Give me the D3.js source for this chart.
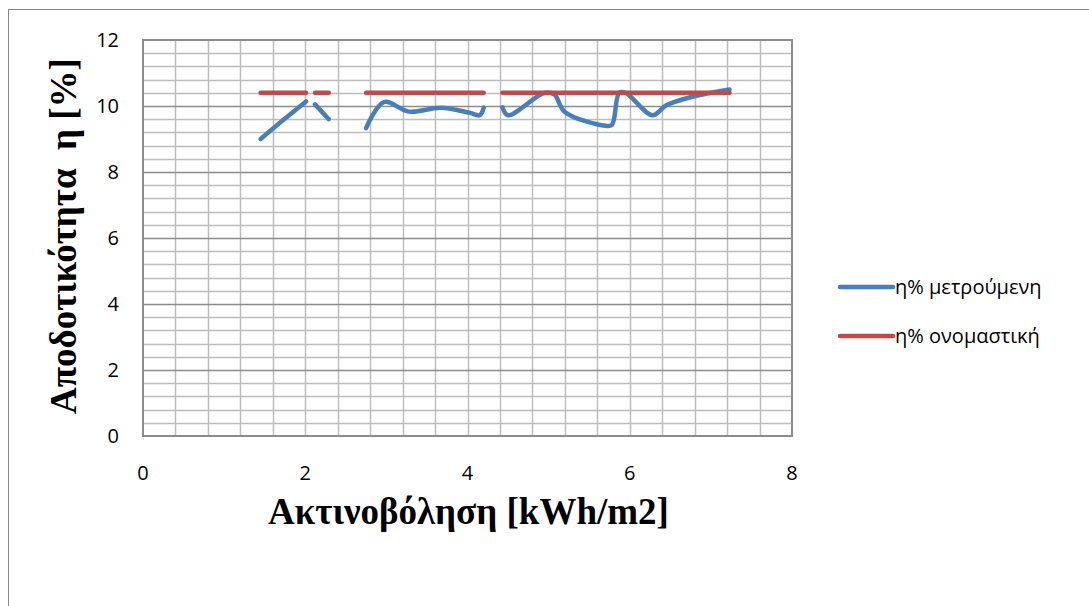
<!DOCTYPE html>
<html>
<head>
<meta charset="utf-8">
<script src="https://cdn.jsdelivr.net/npm/d3@7"></script>
<style>
  body { margin: 0; background: #fff; }
  svg { display: block; }
  .tick-label { font-family: "Open Sans", sans-serif; font-size: 20px; fill: #000; }
  .legend-label { font-family: "Open Sans", sans-serif; font-size: 20px; fill: #000; }
  .axis-title { font-family: "Liberation Serif", serif; font-size: 37px; font-weight: bold; fill: #000; white-space: pre; }
</style>
</head>
<body>
<svg id="chart" width="1089" height="606"></svg>
<script>
// irradiance in kWh/m2, null rows are where the series break
const irradiance = [1.45, 1.75, 2.01, 2.06, 2.12, 2.29, 2.5, 2.75, 2.97, 3.28, 3.67, 4.02, 4.15, 4.2, 4.3,
  4.43, 4.5, 4.95, 5.07, 5.2, 5.7, 5.78, 5.87, 5.95, 6.28, 6.45, 6.77, 7.23];
const measured = [9.0, 9.62, 10.14, null, 10.05, 9.6, null, 9.33, 10.12, 9.83, 9.95, 9.8, 9.72, 9.95, null,
  9.96, 9.72, 10.4, 10.35, 9.82, 9.4, 9.43, 10.4, 10.4, 9.72, 10.02, 10.28, 10.5];
const nominal = [10.4, 10.4, 10.4, null, 10.4, 10.4, null, 10.4, 10.4, 10.4, 10.4, 10.4, 10.4, 10.4, null,
  10.4, 10.4, 10.4, 10.4, 10.4, 10.4, 10.4, 10.4, 10.4, 10.4, 10.4, 10.4, 10.4];

const seriesNames = ["η% μετρούμενη", "η% ονομαστική"];
const seriesColors = ["#4a7ebb", "#be4b48"];
const xTicks = [0, 2, 4, 6, 8];
const yTicks = [0, 2, 4, 6, 8, 10, 12];

const svg = d3.select("#chart");
const margin = { top: 40, left: 143, right: 297, bottom: 170 };
const width = 1089;
const height = 606;
const plotW = width - margin.left - margin.right;
const plotH = height - margin.top - margin.bottom;

// outer chart border
svg.append("rect")
  .attr("x", 8.5)
  .attr("y", 9.5)
  .attr("width", 1200)
  .attr("height", 800)
  .attr("fill", "none")
  .attr("stroke", "#898989")
  .attr("stroke-width", 1);

const x = d3.scaleLinear().domain([0, 8]).range([margin.left, margin.left + plotW]);
const y = d3.scaleLinear().domain([0, 12]).range([margin.top + plotH, margin.top]);

const grid = svg.append("g");

// minor grid every 0.4
grid.selectAll(".vgrid")
  .data(d3.range(1, 20).map((i) => i * 0.4))
  .join("line")
  .attr("x1", (d) => Math.round(x(d)) + 0.5)
  .attr("x2", (d) => Math.round(x(d)) + 0.5)
  .attr("y1", y(0))
  .attr("y2", y(12))
  .attr("stroke", "#bdbdbd")
  .attr("stroke-width", 1.5);

grid.selectAll(".hgrid")
  .data(d3.range(1, 30).map((i) => i * 0.4).filter((d) => Math.abs(d / 2 - Math.round(d / 2)) > 0.01))
  .join("line")
  .attr("x1", x(0))
  .attr("x2", x(8))
  .attr("y1", (d) => Math.round(y(d)) + 0.5)
  .attr("y2", (d) => Math.round(y(d)) + 0.5)
  .attr("stroke", "#bdbdbd")
  .attr("stroke-width", 1.5);

grid.selectAll(".hmajor")
  .data(yTicks.slice(1, -1))
  .join("line")
  .attr("x1", x(0))
  .attr("x2", x(8))
  .attr("y1", (d) => Math.round(y(d)) + 0.5)
  .attr("y2", (d) => Math.round(y(d)) + 0.5)
  .attr("stroke", "#8c8c8c")
  .attr("stroke-width", 1.5);

// plot area frame
svg.append("rect")
  .attr("x", x(0))
  .attr("y", y(12))
  .attr("width", x(8) - x(0))
  .attr("height", y(0) - y(12))
  .attr("fill", "none")
  .attr("stroke", "#8c8c8c")
  .attr("stroke-width", 2);

// tick labels
svg.selectAll(".ylab")
  .data(yTicks)
  .join("text")
  .attr("class", "tick-label")
  .attr("x", x(0) - 24)
  .attr("y", (d) => y(d))
  .attr("dy", "0.36em")
  .attr("text-anchor", "end")
  .text((d) => d);

svg.selectAll(".xlab")
  .data(xTicks)
  .join("text")
  .attr("class", "tick-label")
  .attr("x", (d) => x(d))
  .attr("y", y(0) + 44)
  .attr("text-anchor", "middle")
  .text((d) => d);

// axis titles
svg.append("text")
  .attr("class", "axis-title")
  .attr("x", x(4) + 1)
  .attr("y", 524)
  .attr("text-anchor", "middle")
  .text("Ακτινοβόληση [kWh/m2]");

svg.append("text")
  .attr("class", "axis-title")
  .attr("transform", "translate(76,236) rotate(-90)")
  .attr("text-anchor", "middle")
  .text("Αποδοτικότητα  η [%]");

// series
const rows = irradiance.map((d, i) => ({ x: d, m: measured[i], n: nominal[i] }));

const measuredLine = d3.line()
  .defined((d) => d.m != null)
  .x((d) => x(d.x))
  .y((d) => y(d.m))
  .curve(d3.curveCatmullRom.alpha(0.5));

const nominalLine = d3.line()
  .defined((d) => d.n != null)
  .x((d) => x(d.x))
  .y((d) => y(d.n));

svg.append("path")
  .datum(rows)
  .attr("d", measuredLine)
  .attr("fill", "none")
  .attr("stroke", seriesColors[0])
  .attr("stroke-width", 4.5)
  .attr("stroke-linecap", "round")
  .attr("stroke-linejoin", "round");

svg.append("path")
  .datum(rows)
  .attr("d", nominalLine)
  .attr("fill", "none")
  .attr("stroke", seriesColors[1])
  .attr("stroke-width", 4.5)
  .attr("stroke-linecap", "round")
  .attr("stroke-linejoin", "round");

// legend
const legend = svg.selectAll(".legend")
  .data(seriesNames)
  .join("g")
  .attr("transform", (d, i) => `translate(840,${287 + i * 49})`);

legend.append("line")
  .attr("x1", 0)
  .attr("x2", 53)
  .attr("stroke", (d, i) => seriesColors[i])
  .attr("stroke-width", 4.5)
  .attr("stroke-linecap", "round");

legend.append("text")
  .attr("class", "legend-label")
  .attr("x", 55)
  .attr("dy", "0.33em")
  .text((d) => d);
</script>
</body>
</html>
